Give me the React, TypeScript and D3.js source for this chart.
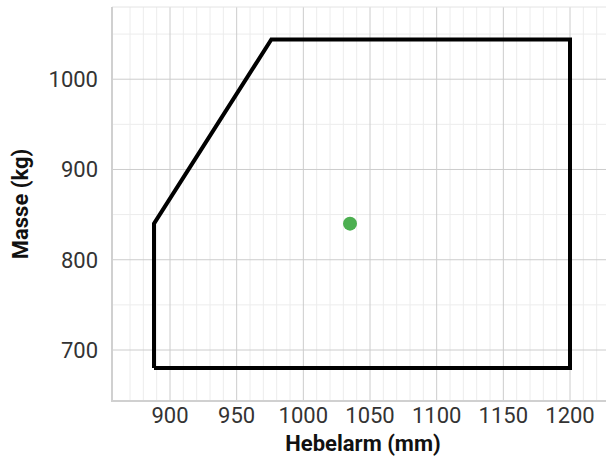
import React from "react";
import * as d3 from "d3";

const envelopeArm = [888, 888, 976, 1200, 1200, 888];
const envelopeMass = [680, 840, 1044, 1044, 680, 680];
const pointArm = [1035];
const pointMass = [840];
const xTicks = [900, 950, 1000, 1050, 1100, 1150, 1200];
const yTicks = [700, 800, 900, 1000];
const xMajorGrid = [900, 950, 1000, 1050, 1100, 1150, 1200];
const xMinorGrid = d3.range(870, 1221, 10).filter((v) => v % 50 !== 0);
const yMajorGrid = [700, 800, 900, 1000];
const yMinorGrid = [750, 850, 950, 1050];
const xTitle = "Hebelarm (mm)";
const yTitle = "Masse (kg)";

const W = 606;
const H = 460;
const L = 112;
const R = 606;
const T = 7;
const B = 401;

export default function App() {
  const x = d3.scaleLinear().domain([856.5, 1227]).range([L, R]);
  const y = d3.scaleLinear().domain([643.5, 1080]).range([B, T]);
  const pts = envelopeArm.map((a, i) => [x(a), y(envelopeMass[i])] as [number, number]);
  const line = d3.line();
  const font = "Roboto, 'Noto Sans', sans-serif";
  return (
    <svg
      width={W}
      height={H}
      style={{ position: "absolute", left: 0, top: 0, background: "#fff" }}
    >
      {xMinorGrid.map((v) => (
        <line key={"xm" + v} x1={x(v)} x2={x(v)} y1={T} y2={B} stroke="#ececec" strokeWidth={1} />
      ))}
      {yMinorGrid.map((v) => (
        <line key={"ym" + v} x1={L} x2={R} y1={y(v)} y2={y(v)} stroke="#ececec" strokeWidth={1} />
      ))}
      {xMajorGrid.map((v) => (
        <line key={"xM" + v} x1={x(v)} x2={x(v)} y1={T} y2={B} stroke="#cccccc" strokeWidth={1} />
      ))}
      {yMajorGrid.map((v) => (
        <line key={"yM" + v} x1={L} x2={R} y1={y(v)} y2={y(v)} stroke="#cccccc" strokeWidth={1} />
      ))}
      <line x1={L} x2={R} y1={T} y2={T} stroke="#e4e4e4" strokeWidth={1} />
      <line x1={L} x2={L} y1={T} y2={B + 1} stroke="#d0d0d0" strokeWidth={2} />
      <line x1={L - 1} x2={R} y1={B} y2={B} stroke="#d0d0d0" strokeWidth={2} />
      <path d={line(pts) || ""} fill="none" stroke="#000" strokeWidth={4} strokeLinejoin="miter" />
      {pointArm.map((a, i) => (
        <circle key={"p" + i} cx={x(a)} cy={y(pointMass[i])} r={7} fill="#4caf50" />
      ))}
      {xTicks.map((v) => (
        <text
          key={"xt" + v}
          x={x(v)}
          y={423}
          textAnchor="middle"
          fontFamily={font}
          fontSize={22}
          fill="#333"
        >
          {v}
        </text>
      ))}
      {yTicks.map((v) => (
        <text
          key={"yt" + v}
          x={98}
          y={y(v)}
          dy="0.36em"
          textAnchor="end"
          fontFamily={font}
          fontSize={22}
          fill="#333"
        >
          {v}
        </text>
      ))}
      <text
        x={(L + R) / 2 + 4}
        y={451}
        textAnchor="middle"
        fontFamily={font}
        fontSize={22}
        fontWeight="bold"
        fill="#111"
      >
        {xTitle}
      </text>
      <text
        transform={`translate(27.5, ${(T + B) / 2}) rotate(-90)`}
        textAnchor="middle"
        fontFamily={font}
        fontSize={22}
        fontWeight="bold"
        fill="#111"
      >
        {yTitle}
      </text>
    </svg>
  );
}
